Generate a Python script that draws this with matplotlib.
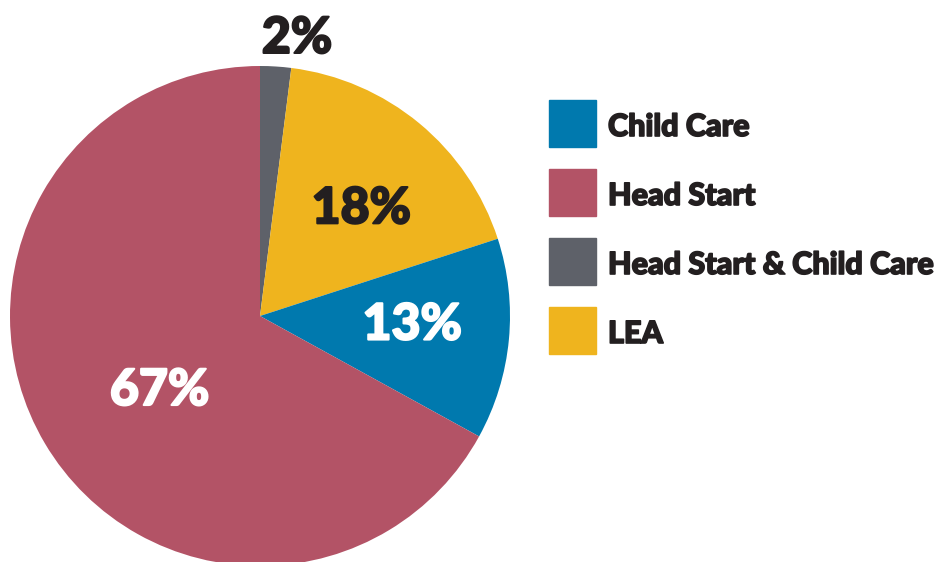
import matplotlib.pyplot as plt
import matplotlib.patheffects as pe
import numpy as np

categories = ['Child Care', 'Head Start', 'Head Start & Child Care', 'LEA']
shares = [13, 67, 2, 18]
colors = ['#0079AE', '#B35366', '#5E6169', '#EFB41E']

# pie drawn clockwise from 12 o'clock: gray, yellow, blue, red
pie_order = [2, 3, 0, 1]
label_spot = {0: (0.61, 2), 1: (0.50, 6), 2: (1.12, -4), 3: (0.59, -3.8)}  # (radius frac, angle shift)
label_color = {0: 'white', 1: 'white', 2: '#231F20', 3: '#231F20'}

plt.rcParams['font.family'] = ['Lato', 'DejaVu Sans']

fig = plt.figure(figsize=(9.37, 5.62), dpi=100)
ax = fig.add_axes([0, 0, 1, 1])

cx, cy, R = 260, 246, 250
wedges, _ = ax.pie([shares[i] for i in pie_order], colors=[colors[i] for i in pie_order],
                   startangle=90, counterclock=False, center=(cx, cy), radius=R,
                   frame=True)
ax.set_xlim(0, 937)
ax.set_ylim(0, 562)
ax.axis('off')

for w, i in zip(wedges, pie_order):
    rf, shift = label_spot[i]
    ang = np.deg2rad((w.theta1 + w.theta2) / 2 + shift)
    ax.text(cx + rf * R * np.cos(ang), cy + rf * R * np.sin(ang), f'{shares[i]}%',
            ha='center', va='center', fontsize=36, fontweight='black',
            color=label_color[i],
            path_effects=[pe.withStroke(linewidth=1.5, foreground=label_color[i])])

# legend
for k, name in enumerate(categories):
    y = 562 - 123 - k * 69
    ax.add_patch(plt.Rectangle((549, y - 23.5), 47, 47, color=colors[k]))
    ax.text(608, y - 13, name, ha='left', va='baseline', fontsize=22, fontweight='black',
            color='#231F20',
            path_effects=[pe.withStroke(linewidth=1.2, foreground='#231F20')])

plt.savefig('out.png', dpi=100)
